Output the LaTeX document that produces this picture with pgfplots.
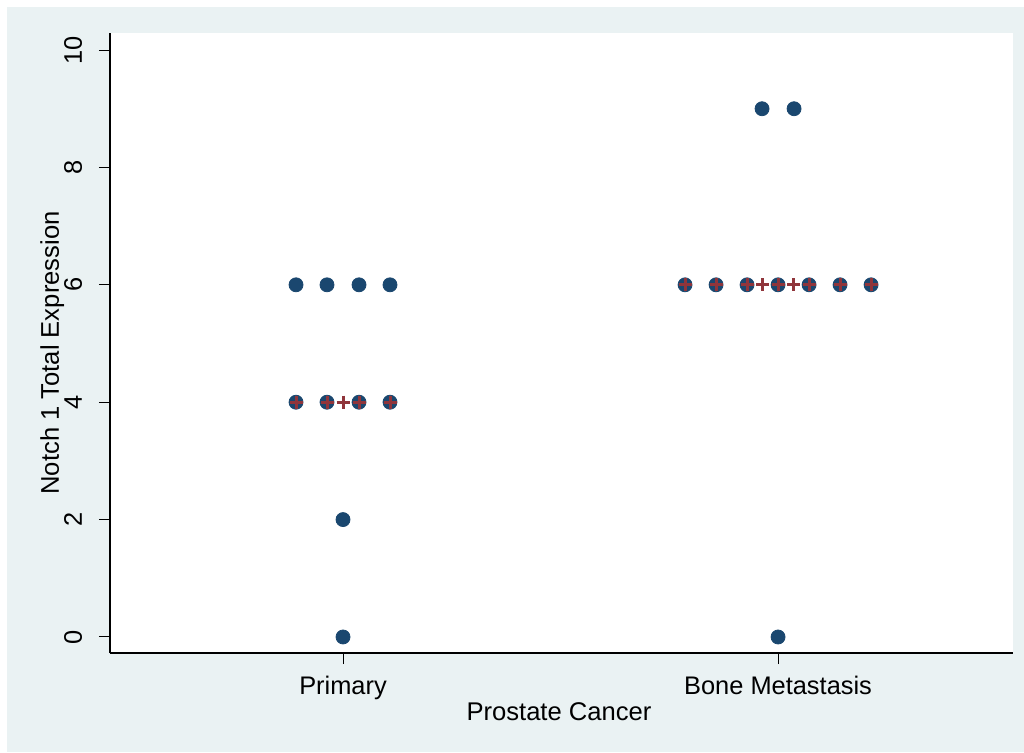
\documentclass[border=0pt]{standalone}
\usepackage{pgfplots}
\pgfplotsset{compat=1.18}
\usepackage{fontspec}
\setmainfont{Liberation Sans}
\definecolor{bgc}{HTML}{EAF2F3}
\definecolor{navy}{HTML}{1A476F}
\definecolor{maroon}{HTML}{90353B}
\begin{document}
\begin{tikzpicture}
\useasboundingbox (-55pt,-49.5pt) rectangle (457pt,326.5pt);
\fill[bgc] (-51.5pt,-49.5pt) rectangle (457pt,323pt);
\begin{axis}[
  scale only axis, width=451.5pt, height=310pt,
  xmin=-0.5356, xmax=1.540, ymin=-0.273, ymax=10.29,
  axis x line*=bottom, axis y line*=left,
  axis line style={line width=0.75pt, -, black},
  axis background/.style={fill=white},
  xtick={0,1}, xticklabels={Primary, Bone Metastasis},
  ytick={0,2,4,6,8,10},
  tick align=outside, major tick length=5.5pt,
  tick style={black, line width=0.5pt},
  /pgf/number format/assume math mode=true,
  tick label style={font=\fontsize{12.7}{15}\selectfont},
  label style={font=\fontsize{12.8}{15}\selectfont},
  xticklabel style={anchor=base, inner sep=0pt, yshift=-15pt},
  yticklabel style={xshift=-8.5pt, rotate=90, anchor=base, inner sep=0pt},
  xlabel={Prostate Cancer},
  ylabel={Notch 1 Total Expression},
  xlabel style={at={([xshift=-1.25pt,yshift=-33.5pt]axis description cs:0.5,0)}, anchor=base, inner sep=0pt},
  ylabel style={at={([xshift=-25.5pt,yshift=-5pt]axis description cs:0,0.5)}, anchor=base, inner sep=0pt, rotate=0},
  clip=false,
]
\addplot[only marks, mark=*, mark size=3.5pt, mark options={fill=navy, draw=navy}] coordinates {
  (-0.108,6) (-0.0368,6) (0.0368,6) (0.108,6)
  (-0.108,4) (-0.0368,4) (0.0368,4) (0.108,4)
  (0,2) (0,0)
  (0.9632,9) (1.0368,9)
  (0.7862,6) (0.8575,6) (0.9287,6) (1,6) (1.0713,6) (1.1425,6) (1.2138,6)
  (1,0)
};
\addplot[only marks, mark=+, mark size=3.25pt, mark options={draw=maroon, line width=1.5pt}] coordinates {
  (-0.108,4) (-0.0368,4) (0,4) (0.0368,4) (0.108,4)
  (0.7862,6) (0.8575,6) (0.9287,6) (0.9644,6) (1,6) (1.0356,6) (1.0713,6) (1.1425,6) (1.2138,6)
};
\end{axis}
\end{tikzpicture}
\end{document}
